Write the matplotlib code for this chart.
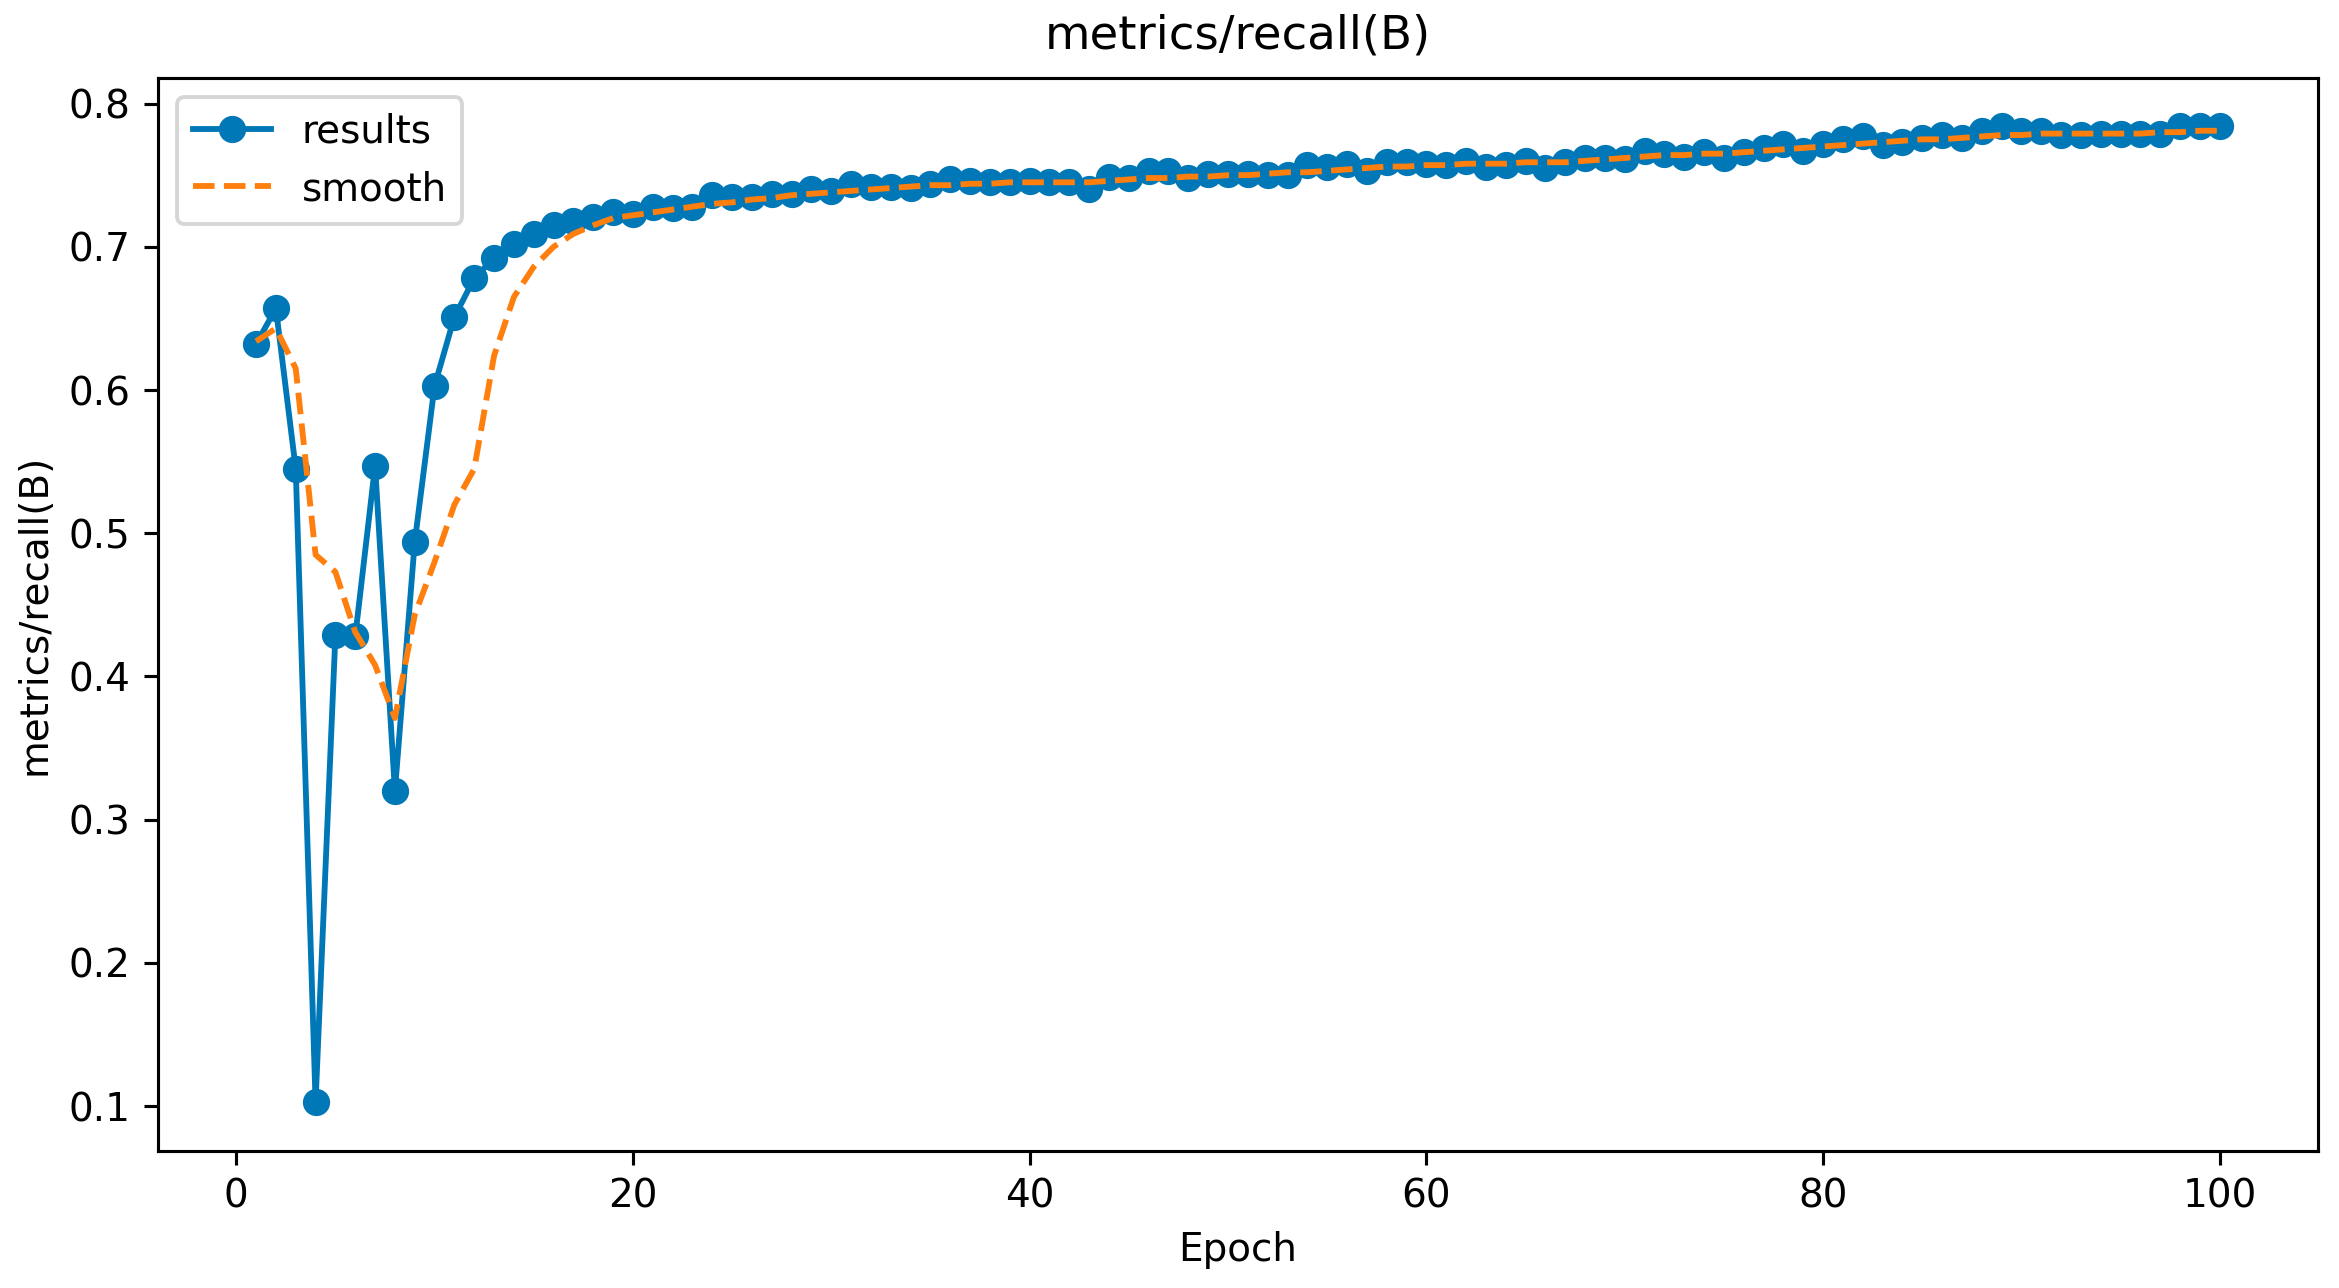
import matplotlib
matplotlib.use("Agg")
import matplotlib.pyplot as plt
import numpy as np

epochs = np.arange(1, 101)

results = [
    0.632, 0.657, 0.545, 0.103, 0.429, 0.428, 0.547, 0.320, 0.494, 0.603,
    0.651, 0.678, 0.692, 0.702, 0.709, 0.715, 0.718, 0.721, 0.724, 0.723,
    0.728, 0.727, 0.728, 0.736, 0.735, 0.735, 0.737, 0.737, 0.740, 0.739,
    0.744, 0.742, 0.742, 0.741, 0.744, 0.747, 0.746, 0.745, 0.745, 0.746,
    0.745, 0.745, 0.740, 0.749, 0.748, 0.753, 0.753, 0.748, 0.751, 0.751,
    0.751, 0.750, 0.750, 0.757, 0.756, 0.758, 0.753, 0.759, 0.759, 0.758,
    0.757, 0.760, 0.756, 0.757, 0.760, 0.755, 0.759, 0.762, 0.762, 0.761,
    0.767, 0.765, 0.763, 0.766, 0.762, 0.766, 0.769, 0.772, 0.767, 0.772,
    0.775, 0.777, 0.771, 0.773, 0.776, 0.778, 0.776, 0.781, 0.784, 0.781,
    0.781, 0.778, 0.778, 0.779, 0.779, 0.779, 0.779, 0.784, 0.784, 0.784,
]

smooth = [
    0.634, 0.643, 0.615, 0.485, 0.473, 0.431, 0.408, 0.371, 0.443, 0.480,
    0.520, 0.545, 0.624, 0.665, 0.686, 0.700, 0.709, 0.715, 0.720, 0.722,
    0.724, 0.726, 0.728, 0.730, 0.731, 0.733, 0.734, 0.736, 0.737, 0.738,
    0.739, 0.740, 0.741, 0.742, 0.743, 0.743, 0.744, 0.744, 0.745, 0.745,
    0.745, 0.745, 0.745, 0.746, 0.747, 0.748, 0.748, 0.749, 0.749, 0.750,
    0.750, 0.751, 0.752, 0.752, 0.753, 0.754, 0.755, 0.756, 0.756, 0.757,
    0.757, 0.758, 0.758, 0.758, 0.759, 0.759, 0.759, 0.760, 0.761, 0.762,
    0.763, 0.764, 0.764, 0.765, 0.765, 0.766, 0.767, 0.768, 0.769, 0.770,
    0.771, 0.772, 0.773, 0.774, 0.775, 0.775, 0.776, 0.777, 0.778, 0.778,
    0.779, 0.779, 0.779, 0.779, 0.779, 0.779, 0.780, 0.780, 0.781, 0.781,
]

fig, ax = plt.subplots(figsize=(2339 / 280, 1288 / 280), dpi=280)
fig.subplots_adjust(left=0.0675, right=0.991, top=0.9397, bottom=0.1066)

ax.plot(epochs, results, marker="o", color="#0077b6", label="results")
ax.plot(epochs, smooth, "--", color="#ff7f0e", label="smooth")

ax.set_title("metrics/recall(B)", pad=7.5)
ax.set_xlabel("Epoch")
ax.set_ylabel("metrics/recall(B)")
ax.legend(loc="upper left")

fig.savefig("out.png", dpi=280)
